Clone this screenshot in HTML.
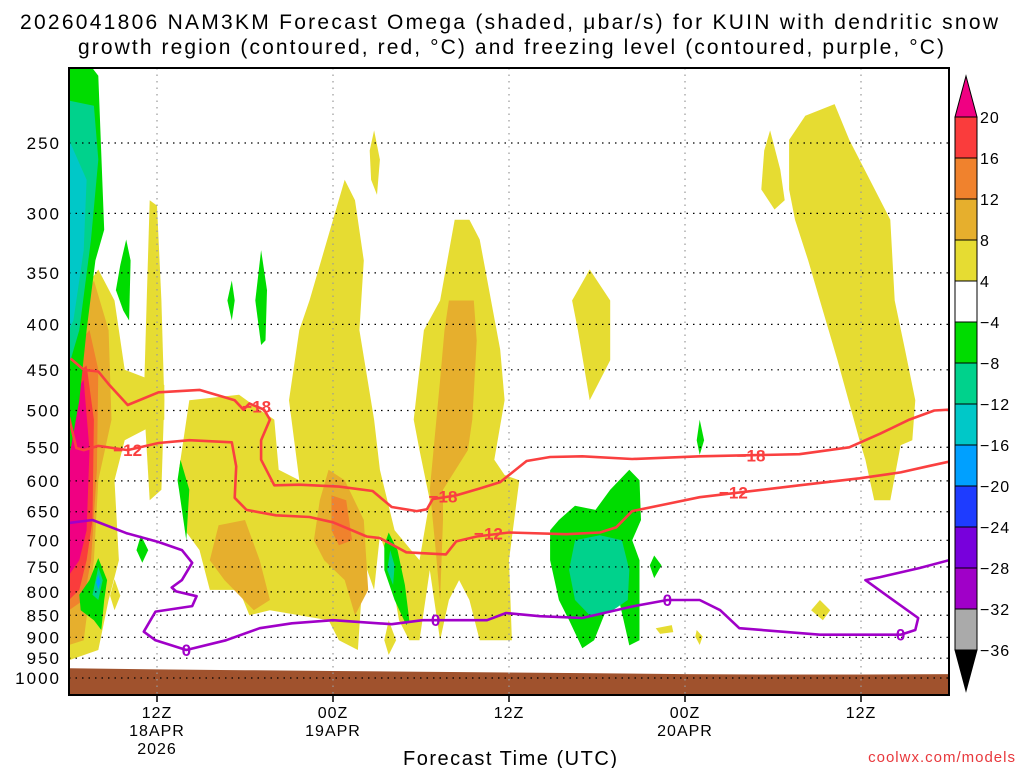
<!DOCTYPE html>
<html><head><meta charset="utf-8">
<style>
html,body{margin:0;padding:0;background:#fff;}
body{width:1024px;height:768px;overflow:hidden;font-family:"Liberation Sans",sans-serif;}
svg text{font-family:"Liberation Sans","DejaVu Sans",sans-serif;}
</style></head>
<body>
<svg id="chart" width="1024" height="768" viewBox="0 0 1024 768" xmlns="http://www.w3.org/2000/svg">
<rect x="0" y="0" width="1024" height="768" fill="#fff"/>
<text x="20" y="29" textLength="978" lengthAdjust="spacing" font-size="21" fill="#000">2026041806 NAM3KM Forecast Omega (shaded, μbar/s) for KUIN with dendritic snow</text>
<text x="78" y="54" textLength="866" lengthAdjust="spacing" font-size="21" fill="#000">growth region (contoured, red, °C) and freezing level (contoured, purple, °C)</text>
<defs><clipPath id="plotclip"><rect x="69" y="68" width="880" height="627"/></clipPath></defs>
<g id="shades" clip-path="url(#plotclip)"></g>
<g id="ground" clip-path="url(#plotclip)"></g>
<g id="grid"></g>
<g id="contours" clip-path="url(#plotclip)"></g>
<rect x="69" y="68" width="880" height="627" fill="none" stroke="#000" stroke-width="2"/>
<g id="yaxis"></g>
<g id="xaxis"></g>
<text x="403" y="765" textLength="214" lengthAdjust="spacing" font-size="20" fill="#000">Forecast Time (UTC)</text>
<text x="1016" y="762" text-anchor="end" font-size="15" fill="#e8383c" letter-spacing="1">coolwx.com/models</text>
<g id="colorbar"></g>
</svg>
<script>
// ---- axis data ----
const pressureTicks = [250,300,350,400,450,500,550,600,650,700,750,800,850,900,950,1000];
const timeTickHours = [6,18,30,42,54];
const timeTickLabels = ["12Z","00Z","12Z","00Z","12Z"];
const timeTickDates = ["18APR","19APR","","20APR",""];
const timeTickYears = ["2026","","","",""];
// ---- colorbar data ----
const cbLabels = [20,16,12,8,4,-4,-8,-12,-16,-20,-24,-28,-32,-36];
const cbColors = ["#FA3C3C","#F0822D","#E6AF2D","#E6DC32","#FFFFFF","#00DC00","#00D28C","#00C8C8","#00A0FF","#1E3CFF","#7800DC","#A000C8","#AAAAAA"];
// ---- shading data: level codes & polygons [hour, hPa] ----
const levelColor = {y:"#E6DC32",g:"#E6AF2D",o:"#F0822D",r:"#FA3C3C",p:"#F00082",gr:"#00DC00",t:"#00D28C",c:"#00C8C8",b:"#00A0FF"};
const blobLevels = ["y","y","y","y","y","y","y","y","y","y","y","y",
 "g","g","g","g","o","o","r","p",
 "gr","t","c",
 "gr","gr","gr","gr","gr","gr","t","b","gr","t","gr","t","gr","gr"];
const blobShapes = [
 [[0,406],[1.0,366],[2.0,347],[3.1,376],[3.8,450],[6.5,468],[6.5,512],[3.8,540],[3.1,599],[3.4,737],[2.7,817],[2.0,930],[0,955]],
 [[5.5,290],[6.0,294],[6.3,376],[6.5,487],[6.3,614],[5.5,631],[5.1,487],[5.3,376]],
 [[8.2,487],[11.6,480],[13.0,499],[14.0,512],[14.3,583],[15.7,599],[15.0,487],[15.7,406],[16.4,376],[18.8,275],[19.5,290],[20.1,339],[19.8,406],[20.8,512],[21.2,583],[22.2,682],[23.9,737],[24.6,631],[23.9,554],[23.5,512],[24.2,406],[25.3,376],[26.3,305],[27.3,305],[28.0,321],[29.4,427],[29.7,487],[29.0,568],[29.7,591],[30.7,599],[30.0,737],[30.2,907],[28.0,907],[27.3,817],[26.6,776],[25.9,817],[25.3,907],[24.6,756],[23.9,907],[23.2,907],[22.5,861],[21.8,737],[21.2,691],[20.8,796],[20.1,737],[19.7,930],[18.4,907],[17.7,861],[15.7,850],[13.7,839],[12.3,850],[11.6,796],[9.6,796],[8.9,718],[7.9,682],[7.5,583],[7.9,526]],
 [[20.8,242],[21.2,261],[21.0,286],[20.6,275],[20.5,255]],
 [[35.5,347],[36.9,376],[36.9,439],[35.5,487],[34.7,406],[34.3,376]],
 [[49.1,248],[50.2,233],[52.2,226],[53.2,248],[54.6,275],[56.0,305],[56.3,376],[57.0,427],[57.7,487],[57.5,540],[56.7,547],[56.0,631],[54.9,631],[54.3,568],[53.9,540],[52.4,439],[51.2,376],[50.4,339],[49.5,305],[49.1,282]],
 [[47.8,242],[48.5,268],[48.8,290],[48.1,297],[47.2,282],[47.4,255]],
 [[51.2,817],[51.9,839],[51.4,861],[50.6,839]],
 [[40.0,879],[41.1,872],[41.2,888],[40.3,892]],
 [[42.8,883],[43.2,898],[43.0,918],[42.7,898]],
 [[3.1,774],[3.5,808],[3.1,839],[2.8,808]],
 [[21.8,861],[22.3,907],[21.8,942],[21.5,907]],
 [[0.1,406],[1.7,357],[2.7,406],[2.9,512],[2.0,599],[1.7,737],[1.0,907],[0,918]],
 [[10.2,673],[12.0,664],[13.0,737],[13.7,817],[12.6,839],[10.6,776],[9.6,737]],
 [[17.7,583],[18.8,599],[20.1,664],[20.4,796],[19.5,850],[18.8,776],[17.4,737],[16.7,700],[17.1,631]],
 [[25.9,376],[27.6,376],[27.8,417],[27.5,512],[27.2,554],[25.5,614],[25.5,664],[25.3,817],[25.0,718],[24.6,614],[25.3,462],[25.6,406]],
 [[0.3,427],[1.4,406],[2.0,450],[1.9,583],[1.5,737],[1.0,817],[0,839]],
 [[17.9,623],[18.9,631],[19.3,700],[18.4,709],[17.9,682]],
 [[0,462],[1.2,445],[1.7,512],[1.6,664],[1.2,737],[0.7,796],[0,817]],
 [[0,487],[1.0,462],[1.4,554],[1.2,682],[0.7,737],[0,766]],
 [[0,200],[1.0,200],[2.0,210],[2.4,313],[1.8,339],[1.2,406],[0.7,487],[0.1,554],[0,554]],
 [[0,224],[1.7,227],[2.0,261],[1.5,321],[0.7,406],[0.1,439],[0,439]],
 [[0,248],[1.2,275],[1.0,330],[0.3,396],[0,406]],
 [[3.9,321],[4.2,339],[4.1,396],[3.7,386],[3.2,366],[3.5,343]],
 [[13.1,330],[13.5,366],[13.4,417],[13.1,422],[12.7,376]],
 [[11.1,357],[11.3,376],[11.1,396],[10.8,376]],
 [[7.6,568],[8.2,614],[8.0,700],[7.5,614],[7.4,599]],
 [[4.9,691],[5.4,718],[5.0,742],[4.6,718]],
 [[2.0,733],[2.6,776],[2.4,817],[2.2,883],[1.7,861],[0.8,839],[0.7,806],[1.4,776]],
 [[2.0,750],[2.3,776],[2.0,817],[1.6,806]],
 [[2.0,765],[2.15,780],[2.0,795],[1.85,780]],
 [[21.8,686],[22.4,718],[22.9,786],[23.2,861],[23.0,872],[22.2,817],[21.5,756],[21.5,709]],
 [[21.9,718],[22.2,747],[22.1,786],[21.7,756]],
 [[33.4,664],[34.5,640],[35.9,647],[36.9,614],[38.2,583],[38.9,599],[39.0,664],[38.4,700],[38.9,737],[38.9,907],[38.2,919],[37.5,817],[36.9,817],[35.8,907],[35.0,926],[34.1,861],[33.4,817],[32.8,737],[32.8,682]],
 [[34.5,700],[36.2,691],[37.7,700],[38.2,756],[38.1,817],[36.9,843],[35.5,850],[34.5,817],[34.1,756]],
 [[39.9,728],[40.4,747],[39.9,772],[39.6,747]],
 [[43.0,512],[43.3,540],[43.0,561],[42.8,540]]
];
// ---- ground (surface pressure by hour) ----
const groundHours = [0,6,12,18,24,30,36,42,48,54,60];
const groundPress = [975,978,980,982,984,986,988,990,991,991,990];
// ---- contour data ----
const line18 = [[0.1,437],[1.0,450],[2.0,452],[2.7,467],[4.0,493],[6.1,477],[8.9,474],[11.3,487],[11.9,499],[12.3,491],[13.3,499],[13.7,512],[13.1,540],[13.1,568],[14.0,607],[15.7,606],[18.4,609],[20.7,616],[22.0,642],[23.7,649],[24.4,646],[24.8,629],[26.4,623],[28.0,612],[29.4,602],[31.2,570],[32.8,564],[35.0,563],[38.4,567],[43.0,563],[49.8,560],[53.2,550],[55.3,531],[57.3,512],[59.0,500],[60,499]];
const line12 = [[0,509],[0.5,551],[1.0,554],[2.0,548],[4.0,554],[6.1,544],[8.2,540],[11.1,543],[11.4,578],[11.3,627],[12.1,647],[14.1,656],[16.4,659],[18.0,668],[20.3,693],[21.2,696],[23.0,722],[25.7,726],[26.4,702],[27.8,693],[30.0,686],[33.9,689],[36.2,686],[37.3,677],[38.4,649],[40.8,637],[43.0,626],[49.8,607],[53.9,596],[56.7,587],[58.7,577],[60,571]];
const line0 = [[0,669],[1.6,664],[3.9,687],[6.1,703],[7.7,718],[8.4,742],[7.7,776],[7.0,791],[7.3,799],[8.7,809],[8.4,830],[5.9,842],[5.1,887],[5.9,907],[8.0,930],[10.7,907],[13.0,879],[15.2,868],[18.0,861],[22.0,870],[24.1,861],[28.5,861],[29.8,845],[32.1,852],[35.0,856],[38.4,831],[40.8,817],[43.0,817],[44.4,839],[45.7,879],[51.2,894],[56.7,894],[57.7,883],[57.9,856],[56.0,813],[54.3,776],[55.3,770],[58.0,752],[60,737]];
const labels18 = [[12.8,495],[25.5,625],[46.5,562]];
const labels12 = [[4.0,554],[28.6,688],[45.3,618]];
const labels0 = [[8.0,930],[25.0,861],[40.8,817],[56.7,894]];

// ---- axis functions ----
const X0=69, X1=949, HMAX=60;
function xs(h){return X0 + h*(X1-X0)/HMAX;}
function ys(p){return 143 + 385.9*Math.log(p/250);}
const NS="http://www.w3.org/2000/svg";
function mk(tag, attrs, parent){const e=document.createElementNS(NS,tag);for(const k in attrs)e.setAttribute(k,attrs[k]);parent.appendChild(e);return e;}
function ptsStr(arr){return arr.map(d=>xs(d[0]).toFixed(1)+","+ys(d[1]).toFixed(1)).join(" ");}

// shading
const gS=document.getElementById("shades");
blobShapes.forEach((shape,i)=>{
  const el=mk("polygon",{points:ptsStr(shape),fill:levelColor[blobLevels[i]]},gS);
  
  
});
// ground
const gG=document.getElementById("ground");
let gp=groundHours.map((h,i)=>[h,groundPress[i]]);
let gstr=ptsStr(gp)+" "+xs(60)+",700 "+xs(0)+",700";
const ge=mk("polygon",{points:gstr,fill:"#A0522D"},gG);



// grid
const gGrid=document.getElementById("grid");
pressureTicks.forEach(p=>{
  const y=ys(p);
  const l=mk("line",{x1:X0,x2:X1,y1:y,y2:y,stroke:"#000","stroke-width":1.2,"stroke-dasharray":"1.5,5"},gGrid);
  
  
});
timeTickHours.forEach(h=>{
  const x=xs(h);
  const l=mk("line",{x1:x,x2:x,y1:68,y2:695,stroke:"#999","stroke-width":1.2,"stroke-dasharray":"1.5,5"},gGrid);
  
  
});

// contours
const gC=document.getElementById("contours");
function drawLine(arr,color,name){
  const el=mk("polyline",{points:ptsStr(arr),fill:"none",stroke:color,"stroke-width":2.6,"stroke-linejoin":"round"},gC);
  
  
}
drawLine(line18,"#FA4040","contour-minus18");
drawLine(line12,"#FA4040","contour-minus12");
drawLine(line0,"#A000C8","freezing-level-0");
function drawLabels(arr,txt,color){
  arr.forEach(d=>{
    const t=mk("text",{x:xs(d[0]),y:ys(d[1])+6,"text-anchor":"middle","font-size":17,"font-weight":"bold",fill:color},gC);
    t.textContent=txt;
    
    
  });
}
drawLabels(labels18,"−18","#FA4040");
drawLabels(labels12,"−12","#FA4040");
drawLabels(labels0,"0","#A000C8");

// y axis
const gY=document.getElementById("yaxis");
pressureTicks.forEach(p=>{
  const t=mk("text",{x:61,y:ys(p)+6,"text-anchor":"end","font-size":17,"letter-spacing":2,fill:"#000"},gY);
  t.textContent=String(p);
  
  
});
// x axis
const gX=document.getElementById("xaxis");
timeTickHours.forEach((h,i)=>{
  const x=xs(h);
  const tk=mk("line",{x1:x,x2:x,y1:695,y2:702,stroke:"#000","stroke-width":1.5},gX);
  
  
  [[timeTickLabels[i],718],[timeTickDates[i],736],[timeTickYears[i],754]].forEach(r=>{
    if(!r[0])return;
    const t=mk("text",{x:x,y:r[1],"text-anchor":"middle","font-size":16,"letter-spacing":1,fill:"#000"},gX);
    t.textContent=r[0];
    
    
  });
});

// colorbar
const gCB=document.getElementById("colorbar");
const cbX=955, cbW=22, cbTop=117, cbStep=41;
const tri1=mk("polygon",{points:`${cbX},${cbTop} ${cbX+cbW},${cbTop} ${cbX+cbW/2},${cbTop-41}`,fill:"#F00082",stroke:"#000","stroke-width":1},gCB);


cbColors.forEach((c,i)=>{
  const r=mk("rect",{x:cbX,y:cbTop+i*cbStep,width:cbW,height:cbStep,fill:c,stroke:"#000","stroke-width":1},gCB);
  
  
});
const bot=cbTop+cbColors.length*cbStep;
const tri2=mk("polygon",{points:`${cbX},${bot} ${cbX+cbW},${bot} ${cbX+cbW/2},${bot+41}`,fill:"#000",stroke:"#000","stroke-width":1},gCB);


cbLabels.forEach((v,i)=>{
  const t=mk("text",{x:980,y:cbTop+i*cbStep+6,"font-size":16,"letter-spacing":1,fill:"#000"},gCB);
  t.textContent=v<0?("−"+Math.abs(v)):String(v);
  
  
});
</script>
</body></html>
